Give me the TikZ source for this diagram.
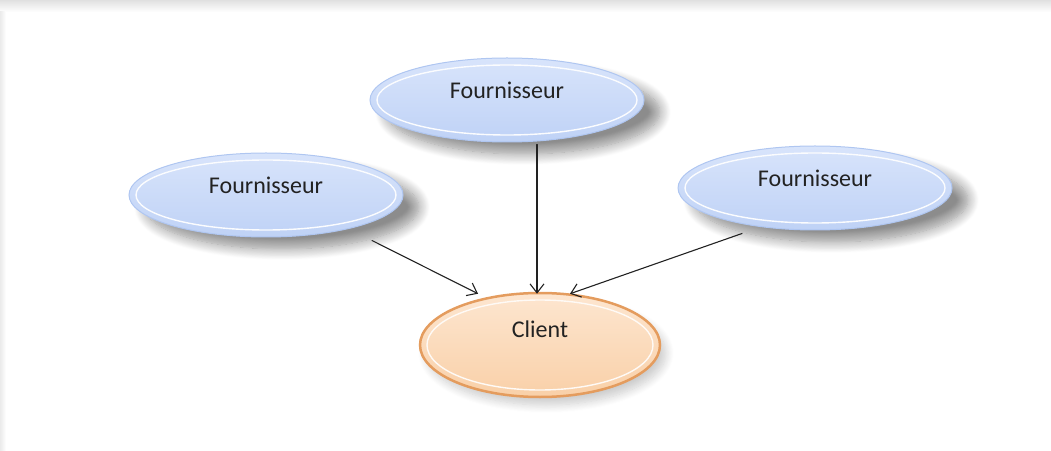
\documentclass[tikz,border=0pt]{standalone}
\usepackage{fontspec}
\setmainfont{Carlito}
\usetikzlibrary{arrows.meta,calc,shapes.geometric,shadows.blur}
\definecolor{fourfill}{HTML}{BFD2F6}
\definecolor{fourtop}{HTML}{D8E4FB}
\definecolor{fouredge}{HTML}{AFC6F1}
\definecolor{clifill}{HTML}{F9D0A8}
\definecolor{clitop}{HTML}{FDE6D0}
\definecolor{cliedge}{HTML}{E49C5E}
\definecolor{inktext}{HTML}{222222}
\tikzset{
  ring/.style={path picture={
      \draw[#1,line width=1.4pt] let \p1=($(path picture bounding box.north east)-(path picture bounding box.center)$) in
        (path picture bounding box.center) ellipse[x radius=\x1-7pt, y radius=\y1-7pt];}},
  fourn/.style={ellipse, minimum width=274pt, minimum height=84pt, inner sep=0pt, text depth=20pt, text=inktext,
      draw=fouredge, line width=1pt, top color=fourtop, bottom color=fourfill, ring=white!90!fourtop,
      blur shadow={shadow xshift=16pt, shadow yshift=-12pt, shadow opacity=45, shadow blur radius=11pt, shadow blur steps=14}},
  cli/.style={ellipse, minimum width=240pt, minimum height=104pt, inner sep=0pt, text depth=32pt, text=inktext,
      draw=cliedge, line width=2.5pt, top color=clitop, bottom color=clifill, ring=white!80!clitop,
      blur shadow={shadow xshift=6pt, shadow yshift=-8pt, shadow opacity=20, shadow blur radius=8pt, shadow blur steps=10}}
}
\begin{document}
\begin{tikzpicture}[x=1pt, y=1pt, font=\fontsize{24}{28}\selectfont, >={Straight Barb[length=9pt,width=14pt]}, line cap=round]
\useasboundingbox (0,0) rectangle (1051,450);
\shade[top color=black!12, bottom color=white] (0,438) rectangle (1051,450);
\shade[left color=black!8, right color=white] (0,0) rectangle (6,438);
\node[fourn] (f2) at (507,350) {Fournisseur};
\node[fourn] (f1) at (266,255) {Fournisseur};
\node[fourn] (f3) at (815,262) {Fournisseur};
\node[cli] (client) at (540,105) {Client};
\draw[->, line width=1.1pt, inktext] ([shift={(106,-3)}]f1.south) -- ([shift={(-62,-2)}]client.north);
\draw[->, line width=1.1pt, inktext] ([shift={(30,-2)}]f2.south) -- ([shift={(-3,-2)}]client.north);
\draw[->, line width=1.1pt, inktext] ([shift={(-73,-3)}]f3.south) -- ([shift={(30,-2)}]client.north);
\end{tikzpicture}
\end{document}
